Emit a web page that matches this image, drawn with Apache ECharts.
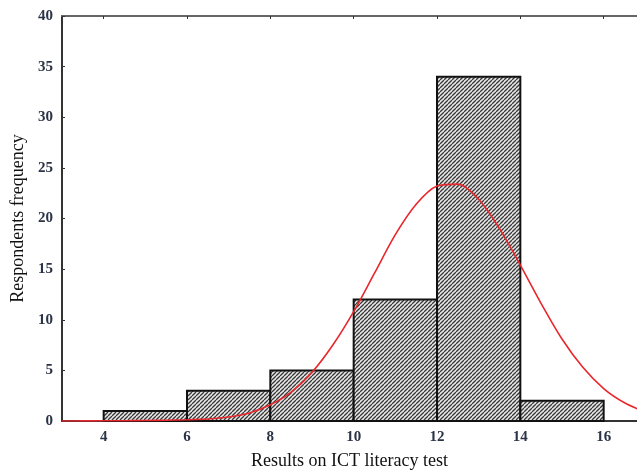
<!DOCTYPE html>
<html>
<head>
<meta charset="utf-8">
<script src="https://cdn.jsdelivr.net/npm/echarts@6/dist/echarts.min.js"></script>
<style>html,body{margin:0;padding:0;background:#fff;}#c{width:637px;height:472px;}</style>
</head>
<body>
<div id="c"></div>
<script>
// Histogram bins (lower edge, upper edge) and frequencies
var binStarts = [4, 6, 8, 10, 12, 14];
var binEnds = [6, 8, 10, 12, 14, 16];
var frequencies = [1, 3, 5, 12, 34, 2];
// Fitted normal curve
var curveX = [3, 3.5, 4, 4.5, 5, 5.5, 6, 6.5, 7, 7.5, 8, 8.5, 9, 9.5, 10, 10.5, 11, 11.5, 12, 12.5, 13, 13.5, 14, 14.5, 15, 15.5, 16, 16.5, 17];
var curveY = [0, 0.01, 0.02, 0.03, 0.05, 0.08, 0.12, 0.2, 0.4, 0.8, 1.6, 2.85, 4.8, 7.5, 10.8, 14.6, 18.4, 21.4, 23.2, 23.4, 21.9, 19.0, 15.4, 11.6, 8.1, 5.3, 3.2, 1.8, 0.9];
var xTicks = [4, 6, 8, 10, 12, 14, 16];

var histData = binStarts.map(function (s, i) { return [s, binEnds[i], frequencies[i]]; });
var curveData = curveX.map(function (x, i) { return [x, curveY[i]]; });

// hatch pattern
var pc = document.createElement('canvas');
pc.width = 4; pc.height = 4;
var g = pc.getContext('2d');
g.fillStyle = '#e8e8e8';
g.fillRect(0, 0, 4, 4);
g.strokeStyle = '#3a3a3a';
g.lineWidth = 1.3;
for (var k = -4; k <= 8; k += 4) {
  g.beginPath();
  g.moveTo(k, 4);
  g.lineTo(k + 4, 0);
  g.stroke();
}

var font = 'Liberation Serif';
var labelColor = '#2b3346';
var chart = echarts.init(document.getElementById('c'));
chart.setOption({
  animation: false,
  backgroundColor: '#ffffff',
  grid: { left: 62, top: 16, right: 0, bottom: 51, outerBoundsMode: 'none', containLabel: false },
  xAxis: [{
    type: 'value', min: 3, max: 16.8, position: 'bottom',
    name: 'Results on ICT literacy test', nameLocation: 'middle', nameGap: 31,
    nameTextStyle: { fontFamily: font, fontSize: 18, color: '#111' },
    axisLine: { show: true, onZero: false, lineStyle: { color: '#333', width: 2 } },
    axisTick: { show: true, inside: true, length: 3, customValues: xTicks, lineStyle: { color: '#333' } },
    axisLabel: { customValues: xTicks, fontFamily: font, fontSize: 15, fontWeight: 'bold', color: labelColor, margin: 9 },
    splitLine: { show: false }
  }, {
    type: 'value', min: 3, max: 16.8, position: 'top',
    axisLine: { show: true, onZero: false, lineStyle: { color: '#666', width: 2 } },
    axisTick: { show: true, inside: true, length: 3, customValues: xTicks, lineStyle: { color: '#333' } },
    axisLabel: { show: false },
    splitLine: { show: false }
  }],
  yAxis: {
    type: 'value', min: 0, max: 40, interval: 5,
    name: 'Respondents frequency', nameLocation: 'middle', nameGap: 34,
    nameTextStyle: { fontFamily: font, fontSize: 18, color: '#111' },
    axisLine: { show: true, lineStyle: { color: '#333', width: 2 } },
    axisTick: { show: true, inside: true, length: 3, lineStyle: { color: '#333' } },
    axisLabel: { fontFamily: font, fontSize: 15, fontWeight: 'bold', color: labelColor, margin: 9 },
    splitLine: { show: false }
  },
  series: [{
    type: 'custom',
    data: histData,
    encode: { x: [0, 1], y: 2 },
    renderItem: function (params, api) {
      var p0 = api.coord([api.value(0), api.value(2)]);
      var p1 = api.coord([api.value(1), 0]);
      return {
        type: 'rect',
        shape: { x: p0[0], y: p0[1], width: p1[0] - p0[0], height: p1[1] - p0[1] },
        style: { fill: { image: pc, repeat: 'repeat' }, stroke: '#111', lineWidth: 2 }
      };
    },
    z: 2
  }, {
    type: 'line',
    data: curveData,
    smooth: 0.3,
    showSymbol: false,
    lineStyle: { color: '#e8262c', width: 1.6 },
    z: 3
  }]
});
</script>
</body>
</html>
